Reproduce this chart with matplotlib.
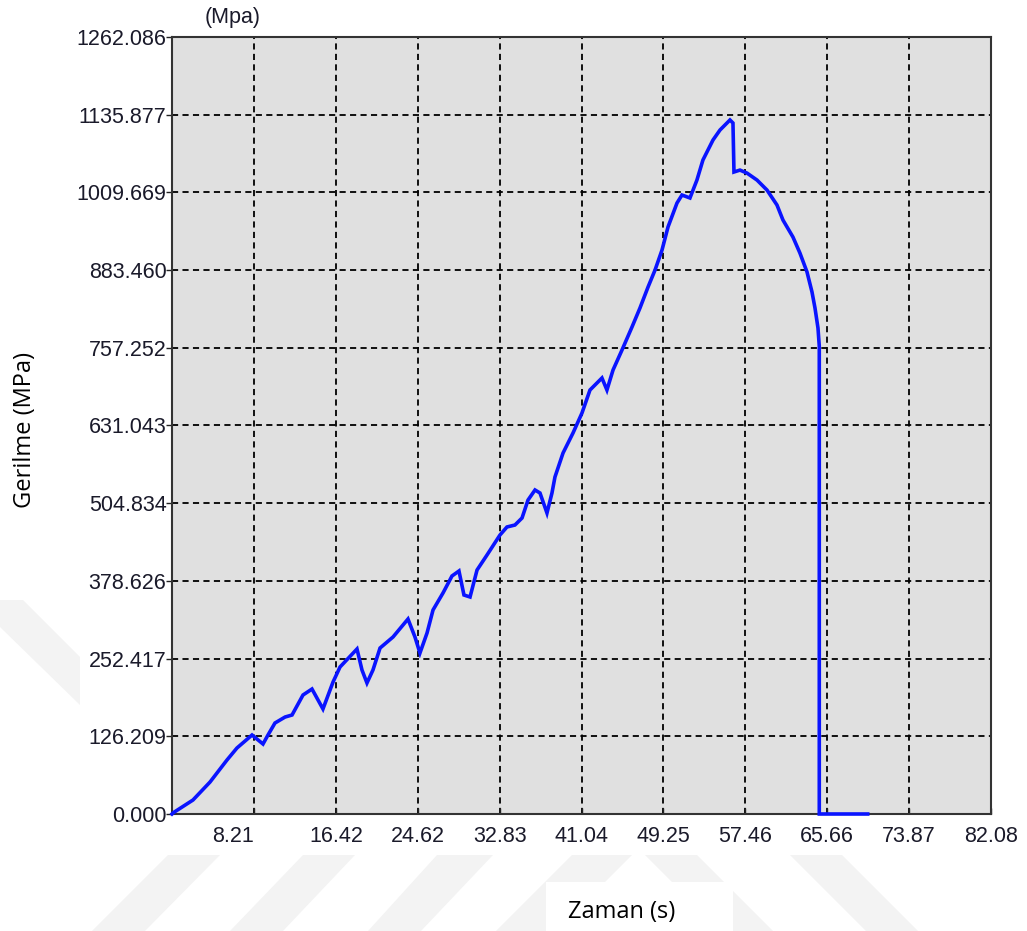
import numpy as np
import matplotlib.pyplot as plt
from matplotlib.patches import Polygon, Rectangle

# time (s) and stress (MPa)
zaman = [0.00, 0.13, 2.10, 3.81, 5.51, 6.51, 8.02, 9.12, 9.62, 10.32, 11.33,
         12.03, 13.13, 14.03, 15.13, 16.14, 16.84, 18.54, 19.04, 19.54, 20.14,
         20.85, 22.15, 23.65, 24.35, 24.85, 25.56, 26.16, 27.16, 28.06, 28.76,
         29.26, 29.87, 30.57, 31.57, 32.87, 33.57, 34.37, 35.08, 35.68, 36.38,
         36.88, 37.58, 38.08, 38.38, 39.19, 40.19, 41.09, 41.89, 43.09, 43.59,
         44.20, 45.10, 46.10, 46.90, 47.71, 48.41, 49.11, 49.71, 50.61, 51.11,
         51.91, 52.61, 53.21, 54.22, 54.92, 55.92, 56.22, 56.32, 56.92, 57.63,
         58.63, 59.63, 60.63, 61.23, 62.23, 62.93, 63.64, 64.14, 64.44, 64.74,
         64.87, 64.87, 69.72]
gerilme = [0.0, 2.1, 22.7, 51.9, 87.7, 107.2, 128.3, 113.7, 128.3, 147.8, 157.5,
           160.8, 193.3, 203.0, 170.6, 214.4, 238.8, 268.0, 233.9, 212.8, 233.9,
           269.6, 287.5, 316.7, 287.5, 261.5, 294.0, 331.4, 359.0, 386.6, 394.7,
           355.7, 352.5, 396.3, 420.7, 453.2, 466.2, 469.4, 480.8, 510.0, 526.3,
           521.4, 488.9, 521.4, 547.4, 586.4, 618.9, 651.4, 688.7, 708.2, 688.7,
           721.2, 753.7, 791.0, 821.9, 856.0, 883.6, 916.1, 953.5, 992.4, 1005.4,
           1000.6, 1029.8, 1062.3, 1094.8, 1111.0, 1127.3, 1122.4, 1042.8, 1045.9, 1041.0,
           1029.7, 1013.5, 989.2, 964.8, 937.2, 911.2, 880.4, 847.9, 821.9, 789.4,
           760.0, 0.0, 0.0]

x_ticks = [8.21, 16.42, 24.62, 32.83, 41.04, 49.25, 57.46, 65.66, 73.87, 82.08]
y_ticks = [0.000, 126.209, 252.417, 378.626, 504.834, 631.043, 757.252,
           883.460, 1009.669, 1135.877, 1262.086]

W, H = 1027, 931
fig = plt.figure(figsize=(W / 100, H / 100), dpi=100)


def fig_xy(pts):
    return [(px / W, 1 - py / H) for px, py in pts]


# faint watermark stripes behind everything
stripes = [
    [(168, 855), (220, 855), (145, 931), (92, 931)],
    [(303, 855), (355, 855), (283, 931), (230, 931)],
    [(437, 855), (493, 855), (421, 931), (368, 931)],
    [(572, 855), (632, 855), (556, 931), (496, 931)],
    [(645, 855), (697, 855), (773, 931), (721, 931)],
    [(790, 855), (842, 855), (918, 931), (866, 931)],
    [(0, 600), (23, 600), (80, 657), (80, 705), (0, 627)],
]
for s in stripes:
    fig.patches.append(Polygon(fig_xy(s), closed=True, transform=fig.transFigure,
                               facecolor='#f3f3f3', edgecolor='none', zorder=0))
fig.patches.append(Rectangle((546 / W, 0), (733 - 546) / W, (931 - 882) / H,
                             transform=fig.transFigure, facecolor='white',
                             edgecolor='none', zorder=0.5))

ax = fig.add_axes([172 / W, 1 - 814 / H, (991 - 172) / W, (814 - 37) / H])
ax.set_facecolor('#e0e0e0')
ax.set_xlim(0, 82.08)
ax.set_ylim(0, 1262.086)

for xv in x_ticks[:-1]:
    ax.axvline(xv, color='#000000', lw=1.3, linestyle=(0, (3.4, 2.4)), zorder=1)
for yv in y_ticks[1:-1]:
    ax.axhline(yv, color='#000000', lw=1.3, linestyle=(0, (3.4, 2.4)), zorder=1)

ax.plot(zaman, gerilme, color='#0a14ff', lw=2.6, zorder=5, clip_on=False,
        solid_joinstyle='miter')

tick_font = dict(family='Liberation Sans', size=15.5, color='#1a1a2a')
ax.set_xticks(x_ticks)
ax.set_xticklabels(['%.2f' % v for v in x_ticks], **tick_font)
ax.get_xticklabels()[0].set_ha('right')
ax.set_yticks(y_ticks)
ax.set_yticklabels(['%.3f' % v for v in y_ticks], **tick_font)
ax.tick_params(axis='x', direction='in', length=4, width=1, pad=9, colors='#222222')
ax.tick_params(axis='y', direction='out', length=4, width=1, pad=0, colors='#222222')
for lab in ax.get_xticklabels() + ax.get_yticklabels():
    lab.set_color('#1a1a2a')

for sp in ax.spines.values():
    sp.set_color('#333333')
    sp.set_linewidth(1.5)
    sp.set_zorder(4)

fig.text(233 / W, 1 - 18 / H, '(Mpa)', ha='center', va='center',
         family='Liberation Sans', size=15.5, color='#1a1a2a')
fig.text(25 / W, 1 - 430 / H, 'Gerilme (MPa)', rotation=90, ha='center',
         va='center', family='Open Sans', size=17, color='black')
fig.text(622 / W, 1 - 912 / H, 'Zaman (s)', ha='center', va='center',
         family='Open Sans', size=17, color='black', zorder=2)

fig.savefig('out.png', dpi=100)
